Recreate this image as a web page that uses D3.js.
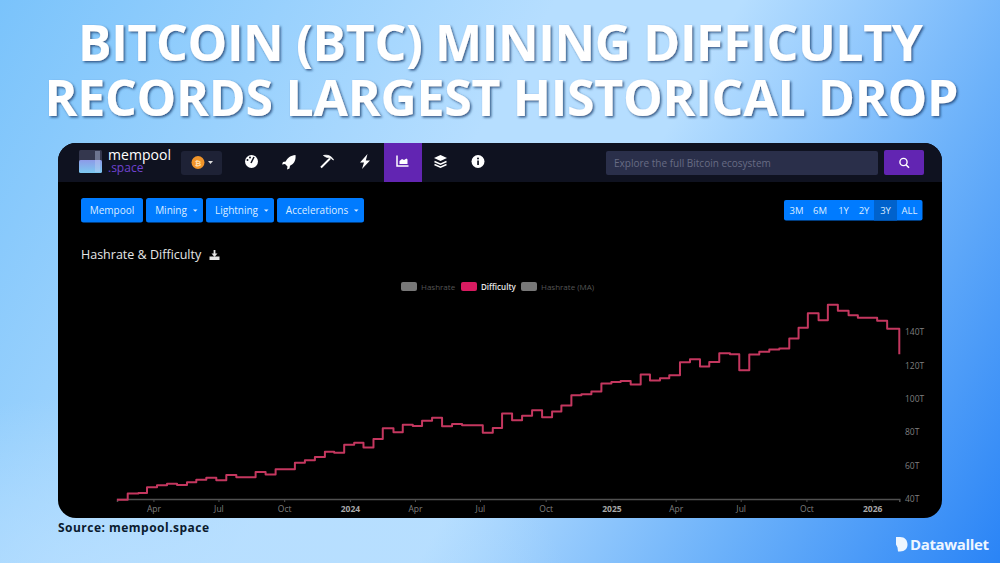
<!DOCTYPE html>
<html lang="en">
<head>
<meta charset="UTF-8">
<title>Bitcoin mining difficulty</title>
<style>
  * { box-sizing: border-box; }
  html, body { margin: 0; padding: 0; width: 1000px; height: 563px; overflow: hidden; }
  body {
    background:
      radial-gradient(ellipse 420px 200px at 15% 105%, #b8dfff 0%, rgba(184,223,255,0) 100%),
      linear-gradient(120deg, #7ac3fb 0%, #b6deff 42%, #b6deff 56%, #6db2fa 78%, #2a84f6 100%);
    font-family: "Open Sans", sans-serif;
  }
  svg { display: block; }
  .title { font-family: "Open Sans", sans-serif; font-weight: 700; fill: #fff; font-size: 50px; text-anchor: middle; }
  .btn { font-family: "Open Sans", sans-serif; font-size: 10px; font-weight: 500; fill: #dcecff; text-anchor: middle; }
  .axis text { font-family: "Open Sans", sans-serif; font-size: 8.5px; fill: #7f7f7f; }
  .axis .domain { stroke: #505050; stroke-width: 1.5; }
  .axis line { stroke: #505050; }
  .legend text { font-family: "Open Sans", sans-serif; font-size: 8px; fill: #555; }
</style>
</head>
<body>
<svg id="chart" width="1000" height="563" viewBox="0 0 1000 563"></svg>
<script src="https://cdn.jsdelivr.net/npm/d3@7"></script>
<script>
// difficulty adjustments (value holds from that date on)
var adjustmentDates = [
  '2023-02-09','2023-02-24','2023-03-11','2023-03-23','2023-04-06','2023-04-20','2023-05-04','2023-05-18',
  '2023-05-31','2023-06-14','2023-06-28','2023-07-12','2023-07-26','2023-08-08','2023-08-22','2023-09-05',
  '2023-09-19','2023-10-02','2023-10-16','2023-10-30','2023-11-13','2023-11-27','2023-12-10','2023-12-24',
  '2024-01-07','2024-01-20','2024-02-03','2024-02-16','2024-03-02','2024-03-15','2024-03-29','2024-04-11',
  '2024-04-25','2024-05-09','2024-05-23','2024-06-06','2024-06-20','2024-07-05','2024-07-19','2024-08-01',
  '2024-08-15','2024-08-29','2024-09-12','2024-09-26','2024-10-10','2024-10-23','2024-11-06','2024-11-20',
  '2024-12-04','2024-12-18','2025-01-01','2025-01-14','2025-01-28','2025-02-11','2025-02-24','2025-03-10',
  '2025-03-23','2025-04-07','2025-04-21','2025-05-05','2025-05-18','2025-06-01','2025-06-16','2025-06-29',
  '2025-07-13','2025-07-27','2025-08-10','2025-08-24','2025-09-07','2025-09-20','2025-10-03','2025-10-18',
  '2025-10-31','2025-11-14','2025-11-29','2025-12-12','2025-12-26','2026-01-08','2026-01-22','2026-02-08'
];
var difficulty = [
  39.6,43.3,43.6,47,48.2,49.2,48.4,50,
  51.6,52.7,51.2,54.4,53,53,56.2,54.6,
  57.8,57.8,61.7,63.2,65.1,68.3,67.7,72.5,
  73.7,70.8,75.9,82.3,79.9,84.5,83.7,86.9,
  88.7,83.5,84.9,84.1,84.1,79.7,82.5,91.2,
  87.1,89.8,93.2,88.9,92.4,96,102.1,102.7,
  104.3,109.1,110.1,110.7,108.5,114.5,111,112.3,
  114.1,121.9,123.7,119.3,122.1,127.3,126.7,117.1,
  126.5,128.1,129.5,130.1,136.1,142.5,151.3,147.1,
  156.3,152.7,150,148.6,148.6,146.8,142,126.7
];
var yTicks = [40, 60, 80, 100, 120, 140];
var xTickDates = ['2023-04-01','2023-07-01','2023-10-01','2024-01-01','2024-04-01','2024-07-01','2024-10-01','2025-01-01','2025-04-01','2025-07-01','2025-10-01','2026-01-01'];
var titleLines = ['BITCOIN (BTC) MINING DIFFICULTY', 'RECORDS LARGEST HISTORICAL DROP'];
var menuLabels = ['Mempool', 'Mining', 'Lightning', 'Accelerations'];
var rangeLabels = ['3M', '6M', '1Y', '2Y', '3Y', 'ALL'];
var legendLabels = ['Hashrate', 'Difficulty', 'Hashrate (MA)'];

var parseDate = d3.utcParse('%Y-%m-%d');
var svg = d3.select('#chart');
var defs = svg.append('defs');

// title
defs.append('filter').attr('id', 'shadow')
  .attr('x', '-5%').attr('y', '-20%').attr('width', '110%').attr('height', '150%')
  .append('feDropShadow').attr('dx', 1.5).attr('dy', 1.5).attr('stdDeviation', .9)
  .attr('flood-color', '#173a6b').attr('flood-opacity', .8);
svg.selectAll('.title').data(titleLines).enter().append('text')
  .attr('class', 'title')
  .attr('x', (d, i) => i ? 501.5 : 500.5)
  .attr('y', (d, i) => i ? 116 : 61)
  .attr('textLength', (d, i) => i ? 914 : 845)
  .attr('lengthAdjust', 'spacing')
  .attr('filter', 'url(#shadow)')
  .text(d => d);

// app window
svg.append('rect').attr('x', 58).attr('y', 143).attr('width', 884).attr('height', 375).attr('rx', 18).attr('fill', '#000');
svg.append('path').attr('d', 'M58 182V161a18 18 0 0 1 18-18H924a18 18 0 0 1 18 18V182Z').attr('fill', '#0f1220');

// logo
var logoGrad = defs.append('linearGradient').attr('id', 'logoGrad').attr('x1', 0).attr('y1', 0).attr('x2', 0).attr('y2', 1);
logoGrad.append('stop').attr('offset', '0%').attr('stop-color', '#8d9be8');
logoGrad.append('stop').attr('offset', '100%').attr('stop-color', '#7cc8f0');
svg.append('rect').attr('x', 79).attr('y', 150).attr('width', 23).attr('height', 12).attr('rx', 1.5).attr('fill', '#34374e');
svg.append('rect').attr('x', 79).attr('y', 160).attr('width', 23).attr('height', 13).attr('rx', 1.5).attr('fill', 'url(#logoGrad)');
svg.append('rect').attr('x', 95).attr('y', 151).attr('width', 5).attr('height', 21).attr('fill', '#c4d0f2').attr('opacity', .4);
svg.append('text').attr('x', 108).attr('y', 160).attr('font-size', 14).attr('fill', '#fff').attr('textLength', 63).text('mempool');
svg.append('text').attr('x', 108).attr('y', 171.5).attr('font-size', 12).attr('fill', '#6f42cf').text('.space');

// network selector
svg.append('rect').attr('x', 181).attr('y', 151).attr('width', 41).attr('height', 24).attr('rx', 3).attr('fill', '#1e2236');
svg.append('circle').attr('cx', 198).attr('cy', 162.5).attr('r', 6.5).attr('fill', '#f0942a');
svg.append('text').attr('x', 198).attr('y', 165.5).attr('font-size', 8).attr('font-weight', 700).attr('fill', '#ffdca8').attr('text-anchor', 'middle').text('₿');
svg.append('path').attr('d', 'M208 161h5l-2.5 3Z').attr('fill', '#ddd');

// nav icons, simplified
svg.append('rect').attr('x', 384).attr('y', 143).attr('width', 38).attr('height', 39).attr('fill', '#6225b2');
var nav = svg.append('g').attr('fill', '#fff');
nav.append('circle').attr('cx', 251.5).attr('cy', 161.5).attr('r', 6.5);
nav.append('path').attr('d', 'M251 163l3-6').attr('stroke', '#0f1220').attr('stroke-width', 1.6);
nav.append('circle').attr('cx', 247.5).attr('cy', 160).attr('r', 1).attr('fill', '#0f1220');
nav.append('circle').attr('cx', 250).attr('cy', 157.5).attr('r', 1).attr('fill', '#0f1220');
nav.append('path').attr('d', 'M295.5 155c-5 .3-8 3-9.8 6.5l-2.7.5-1 2.5 3-.5 2.5 2.5-.5 3 2.5-1 .5-2.7c3.5-1.8 6.2-4.8 5.5-10.8Z');
nav.append('path').attr('d', 'M321 167.5l9-9').attr('stroke', '#fff').attr('stroke-width', 2);
nav.append('path').attr('d', 'M323.5 155.5c4-.8 8 .2 10 4.5-2.5-2-4.5-2.5-6-2.5l-1.5-.5Z').attr('stroke', '#fff').attr('stroke-width', .8);
nav.append('path').attr('d', 'M367.5 154l-7.5 8.5h4l-2 6.5 8-8.5h-4.2Z');
nav.append('path').attr('d', 'M397 155.5v10.5h11.5').attr('fill', 'none').attr('stroke', '#fff').attr('stroke-width', 1.5);
nav.append('path').attr('d', 'M399.5 164v-3l2.5-2 2 1 2.5-1.5 1 1v4.5Z');
nav.append('path').attr('d', 'M440.5 155l6.5 3-6.5 3-6.5-3Z');
nav.append('path').attr('d', 'M434.5 161.5l6 2.7 6-2.7M434.5 164.5l6 2.7 6-2.7').attr('fill', 'none').attr('stroke', '#fff').attr('stroke-width', 1.5);
nav.append('circle').attr('cx', 478).attr('cy', 161.5).attr('r', 6.5);
nav.append('rect').attr('x', 477.2).attr('y', 160.5).attr('width', 1.7).attr('height', 4.5).attr('fill', '#0f1220');
nav.append('circle').attr('cx', 478).attr('cy', 158.5).attr('r', 1).attr('fill', '#0f1220');

// search box
svg.append('rect').attr('x', 606).attr('y', 151).attr('width', 272).attr('height', 24).attr('rx', 2).attr('fill', '#2a2f4a');
svg.append('text').attr('x', 614).attr('y', 167).attr('font-size', 10).attr('fill', '#686c84').text('Explore the full Bitcoin ecosystem');
svg.append('rect').attr('x', 884).attr('y', 150).attr('width', 40).attr('height', 25).attr('rx', 2).attr('fill', '#6225b2');
svg.append('circle').attr('cx', 903.5).attr('cy', 162).attr('r', 3.6).attr('fill', 'none').attr('stroke', '#fff').attr('stroke-width', 1.4);
svg.append('path').attr('d', 'M906 164.8l3 3').attr('stroke', '#fff').attr('stroke-width', 1.6);

// menu buttons
var menuX = [81, 146, 206, 277], menuW = [62, 57, 68, 87];
var menu = svg.selectAll('.menu').data(menuLabels).enter().append('g').attr('class', 'menu');
menu.append('rect').attr('x', (d, i) => menuX[i]).attr('y', 198).attr('width', (d, i) => menuW[i]).attr('height', 24.5).attr('rx', 2.5).attr('fill', '#007bff');
menu.append('text').attr('class', 'btn').attr('x', (d, i) => menuX[i] + menuW[i] / 2 - (i ? 3.5 : 0)).attr('y', 214).text(d => d);
menu.filter((d, i) => i > 0).append('path').attr('d', (d, i) => {
  var x = menuX[i + 1] + menuW[i + 1] - 10;
  return 'M' + x + ' 209.5h4.5l-2.25 2.2Z';
}).attr('fill', '#dcecff');

// range buttons
var rangeX = [784, 807, 833, 854, 874, 897, 922];
svg.append('rect').attr('x', 784).attr('y', 200).attr('width', 138.5).attr('height', 20.5).attr('rx', 2).attr('fill', '#007bff');
svg.append('rect').attr('x', 874).attr('y', 200).attr('width', 23).attr('height', 20.5).attr('fill', '#0062cc');
svg.selectAll('.range').data(rangeLabels).enter().append('text')
  .attr('class', 'btn range')
  .attr('x', (d, i) => (rangeX[i] + rangeX[i + 1]) / 2 + (i == 0 ? 1 : 0))
  .attr('y', 214).style('font-size', '9.5px').text(d => d);

// chart heading
svg.append('text').attr('x', 81).attr('y', 259).attr('font-size', 12.5).attr('fill', '#e6e6e6').text('Hashrate & Difficulty');
svg.append('path').attr('d', 'M209.5 256.5h10v3.5h-10Z').attr('fill', '#e6e6e6');
svg.append('path').attr('d', 'M214.5 250v5').attr('stroke', '#e6e6e6').attr('stroke-width', 1.8);
svg.append('path').attr('d', 'M211.5 253.5l3 3.5 3-3.5Z').attr('fill', '#e6e6e6');

// legend
var legendX = [401, 461, 521];
var legend = svg.selectAll('.legend').data(legendLabels).enter().append('g').attr('class', 'legend');
legend.append('rect').attr('x', (d, i) => legendX[i]).attr('y', 282).attr('width', 16).attr('height', 9).attr('rx', 2)
  .attr('fill', d => d == 'Difficulty' ? '#d81b60' : '#777');
legend.append('text').attr('x', (d, i) => legendX[i] + 20).attr('y', 289.5)
  .style('fill', d => d == 'Difficulty' ? '#e6e6e6' : '#555')
  .style('font-weight', d => d == 'Difficulty' ? 600 : 400)
  .text(d => d);

// scales
var x = d3.scaleUtc().domain([parseDate(adjustmentDates[0]), parseDate(adjustmentDates[adjustmentDates.length - 1])]).range([117, 899.3]);
var y = d3.scaleLinear().domain([40, 140]).range([499, 332]);

var xAxis = d3.axisBottom(x)
  .tickValues(xTickDates.map(parseDate))
  .tickSize(3).tickPadding(4)
  .tickFormat(d => d.getUTCMonth() == 0 ? d3.utcFormat('%Y')(d) : d3.utcFormat('%b')(d));
var gx = svg.append('g').attr('class', 'axis').attr('transform', 'translate(0,' + y(40) + ')').call(xAxis);
gx.selectAll('.tick text').filter(d => d.getUTCMonth() == 0).style('font-weight', 700).style('fill', '#a8a8a8');

var yAxis = d3.axisRight(y).tickValues(yTicks).tickSize(0).tickPadding(0).tickFormat(d => d + 'T');
var gy = svg.append('g').attr('class', 'axis').attr('transform', 'translate(905,0)').call(yAxis);
gy.select('.domain').remove();

// difficulty line
var line = d3.line()
  .x((d, i) => x(parseDate(adjustmentDates[i])))
  .y(d => y(d))
  .curve(d3.curveStepAfter);
svg.append('path').datum(difficulty)
  .attr('d', line)
  .attr('fill', 'none')
  .attr('stroke', '#c4375f')
  .attr('stroke-width', 2)
  .attr('stroke-linejoin', 'round');

// footer
svg.append('text').attr('x', 58).attr('y', 532).attr('font-size', 12).attr('font-weight', 700).attr('fill', '#0a1a2e').attr('textLength', 151).text('Source: mempool.space');
svg.append('path').attr('d', 'M896 537h4c5 0 7.5 3.5 7.5 7.5s-2.5 7-7.5 7h-2l-.5-4-1.5-3Z').attr('fill', '#eef6ff');
svg.append('text').attr('x', 910).attr('y', 549.5).attr('font-size', 15).attr('font-weight', 700).attr('fill', '#eef6ff').attr('textLength', 79).text('Datawallet');
</script>
</body>
</html>
